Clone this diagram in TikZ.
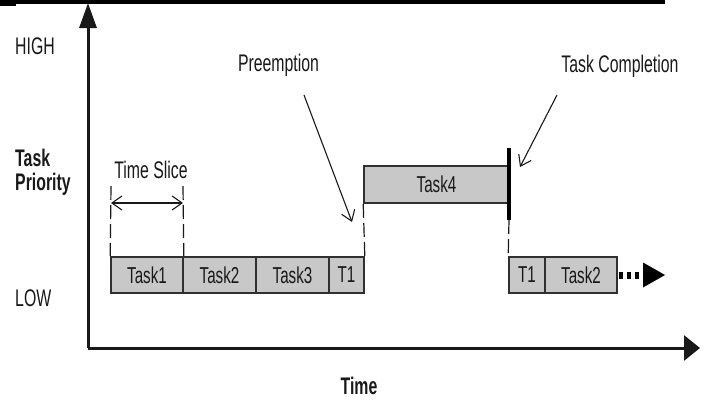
\documentclass[tikz,border=0pt]{standalone}
\usepackage{fontspec}
\setmainfont[FakeStretch=0.66]{Liberation Sans}
\usetikzlibrary{arrows.meta}
\definecolor{boxfill}{RGB}{200,200,200}
\definecolor{ink}{RGB}{25,25,25}
\tikzset{
  lbl/.style={font=\fontsize{24}{27}\selectfont, text=ink, inner sep=0pt},
  blbl/.style={font=\fontsize{24}{27}\selectfont\bfseries, text=ink, inner sep=0pt},
  taskbox/.style={draw=ink!90, fill=boxfill, line width=1.6pt, inner sep=0pt,
    minimum height=36pt, font=\fontsize{23}{26}\selectfont, text=ink},
  axis/.style={line width=3pt, ink},
  dashln/.style={line width=1.2pt, ink, dash pattern=on 14pt off 5pt},
  barb/.tip={Straight Barb[length=10pt,width=14pt,line width=1.1pt]},
  pointer/.style={line width=1.1pt, ink, -barb},
  span/.style={line width=1.1pt, ink, barb-barb},
}
\begin{document}
\begin{tikzpicture}[x=1pt,y=-1pt]
\useasboundingbox (0,0) rectangle (707,402);
% top bar
\fill[black] (0,0) rectangle (665,4);
\fill[black] (0,0) rectangle (16,5.5);
% axes
\coordinate (org) at (88,348);
\coordinate (ytop) at (88,3);
\coordinate (xend) at (700,348);
\draw[axis, -{Triangle[length=25pt,width=17pt]}] (org) -- (ytop);
\draw[axis, -{Triangle[length=16pt,width=25pt]}] (org) -- (xend);
% labels
\node[lbl, anchor=west] (high) at (15,46) {HIGH};
\node[lbl, anchor=west] (low) at (15,298) {LOW};
\node[blbl, anchor=west] (task) at (15,158) {Task};
\node[blbl, anchor=west] (prio) at (15,184) {Priority};
\node[blbl] (time) at (359,386) {Time};
\node[lbl] (preempt) at (278.5,65) {Preemption};
\node[lbl] (complete) at (620,66) {Task Completion};
\node[lbl] (slice) at (151,170) {Time Slice};
% low row
\node[taskbox, minimum width=72pt] (ta1) at (147,275) {Task1};
\node[taskbox, minimum width=73pt] (ta2) at (219.5,275) {Task2};
\node[taskbox, minimum width=73pt] (ta3) at (292.5,275) {Task3};
\node[taskbox, minimum width=35pt] (tt1) at (346.5,275) {T1};
% high
\node[taskbox, minimum width=145pt, minimum height=37pt] (ta4) at (436.5,184.5) {Task4};
% resumed
\node[taskbox, minimum width=36pt] (tt1b) at (527,275) {T1};
\node[taskbox, minimum width=72pt] (ta2b) at (581,275) {Task2};
% completion bar
\coordinate (cbtop) at (509,148);
\coordinate (cbbot) at (509,220);
\draw[line width=3.5pt, black] (cbtop) -- (cbbot);
% dashed transitions
\draw[dashln] (ta4.south west) -- (tt1.north east);
\draw[dashln] (cbbot) -- (tt1b.north west);
% time slice
\coordinate (s1top) at (111,186);
\coordinate (s2top) at (183,186);
\draw[dashln] (s1top) -- (ta1.north west);
\draw[dashln] (s2top) -- (ta1.north east);
\coordinate (sa) at (111,203);
\coordinate (sb) at (183,203);
\draw[span] (sa) -- (sb);
% pointers
\coordinate (pfrom) at (304,95);
\coordinate (pto) at (352,222);
\draw[pointer] (pfrom) -- (pto);
\coordinate (cfrom) at (557,95);
\coordinate (cto) at (520,167);
\draw[pointer] (cfrom) -- (cto);
% continuation
\coordinate (dotend) at (643,275);
\draw[line width=7pt, black, dash pattern=on 4.5pt off 3.5pt] ([xshift=1pt]ta2b.east) -- (dotend);
\coordinate (tipend) at (665,275);
\fill[black] (dotend) ++(0,-12.5) -- (tipend) -- (643,287.5) -- cycle;
\end{tikzpicture}
\end{document}
